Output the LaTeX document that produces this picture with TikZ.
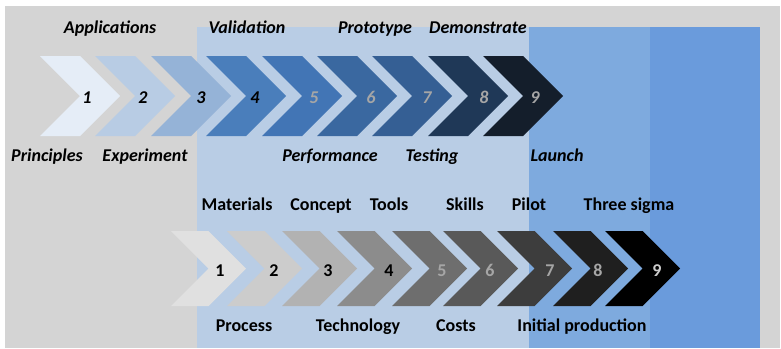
\documentclass[tikz,border=0pt]{standalone}
\usepackage{fontspec}
\setmainfont{Carlito}
\usepackage{xcolor}
\usetikzlibrary{positioning}

\definecolor{bggrey}{HTML}{D4D4D4}
\definecolor{bandlight}{HTML}{B9CDE5}
\definecolor{bandmid}{HTML}{7EAADE}
\definecolor{banddark}{HTML}{6A9BDC}
\definecolor{numgrey}{HTML}{A6A6A6}
\definecolor{blueA}{HTML}{E5EDF7}
\definecolor{blueB}{HTML}{B8CCE4}
\definecolor{blueC}{HTML}{95B3D7}
\definecolor{blueD}{HTML}{4A7EBB}
\definecolor{blueE}{HTML}{4275B5}
\definecolor{blueF}{HTML}{3A68A0}
\definecolor{blueG}{HTML}{355F94}
\definecolor{blueH}{HTML}{1F3857}
\definecolor{blueI}{HTML}{141E2B}

% chevron: left x, top y, height, colour
\newcommand{\chevron}[4]{%
    \fill[#4] (#1,#2) -- ++(0.5*#3,0) -- ++(0.5*#3,0.5*#3) -- ++(-0.5*#3,0.5*#3)
        -- ++(-0.5*#3,0) -- ++(0.5*#3,-0.5*#3) -- cycle;}

\tikzset{
    stage/.style={font=\fontsize{18}{20}\selectfont\bfseries\itshape, text height=12pt, text depth=4pt, inner sep=0pt},
    task/.style={font=\fontsize{18}{20}\selectfont\bfseries, text height=12pt, text depth=4pt, inner sep=0pt},
}

\begin{document}
\begin{tikzpicture}[x=1pt, y=-1pt]
    \useasboundingbox (0, 0) rectangle (781, 348);
    \fill[white] (0, 0) rectangle (781, 348);
    \fill[bggrey] (5, 6) rectangle (780, 348);
    \fill[bandlight] (197, 27) rectangle (529, 348);
    \fill[bandmid] (529, 27) rectangle (650, 348);
    \fill[banddark] (650, 27) rectangle (760, 348);

    % upper row
    \chevron{40}{56}{80}{blueA}
    \chevron{95}{56}{80}{blueB}
    \chevron{151}{56}{80}{blueC}
    \chevron{206}{56}{80}{blueD}
    \chevron{262}{56}{80}{blueE}
    \chevron{317}{56}{80}{blueF}
    \chevron{372}{56}{80}{blueG}
    \chevron{428}{56}{80}{blueH}
    \chevron{483}{56}{80}{blueI}

    \node[stage] (n1) at (87, 99) {1};
    \node[stage] (n2) at (143, 99) {2};
    \node[stage] (n3) at (201, 99) {3};
    \node[stage] (n4) at (255, 99) {4};
    \node[stage, numgrey] (n5) at (314, 99) {5};
    \node[stage, numgrey] (n6) at (371, 99) {6};
    \node[stage, numgrey] (n7) at (427, 99) {7};
    \node[stage, numgrey] (n8) at (484, 99) {8};
    \node[stage, numgrey] (n9) at (535, 99) {9};

    \node[stage] (applications) at (110, 29.5) {Applications};
    \node[stage] (validation) at (247, 29.5) {Validation};
    \node[stage] (prototype) at (375, 29.5) {Prototype};
    \node[stage] (demonstrate) at (478, 29.5) {Demonstrate};
    \node[stage] (principles) at (47, 157) {Principles};
    \node[stage] (experiment) at (145, 157) {Experiment};
    \node[stage] (performance) at (330, 157) {Performance};
    \node[stage] (testing) at (432, 157) {Testing};
    \node[stage] (launch) at (557, 157) {Launch};

    % lower row
    \chevron{171}{231}{75}{black!12}
    \chevron{227}{231}{75}{black!20}
    \chevron{282}{231}{75}{black!30}
    \chevron{337}{231}{75}{black!45}
    \chevron{392}{231}{75}{black!57}
    \chevron{443}{231}{75}{black!65}
    \chevron{497}{231}{75}{black!76}
    \chevron{553}{231}{75}{black!88}
    \chevron{605}{231}{75}{black}

    \node[task] (m1) at (220, 272) {1};
    \node[task] (m2) at (274, 272) {2};
    \node[task] (m3) at (328, 272) {3};
    \node[task] (m4) at (389, 272) {4};
    \node[task, numgrey] (m5) at (442, 272) {5};
    \node[task, numgrey] (m6) at (490, 272) {6};
    \node[task, numgrey] (m7) at (550, 272) {7};
    \node[task, numgrey] (m8) at (598, 272) {8};
    \node[task, black!20] (m9) at (657, 272) {9};

    \node[task] (materials) at (237, 206.5) {Materials};
    \node[task] (concept) at (321, 206.5) {Concept};
    \node[task] (tools) at (389, 206.5) {Tools};
    \node[task] (skills) at (465, 206.5) {Skills};
    \node[task] (pilot) at (529, 206.5) {Pilot};
    \node[task] (sigma) at (629, 206.5) {Three sigma};
    \node[task] (process) at (244, 327) {Process};
    \node[task] (technology) at (358, 327) {Technology};
    \node[task] (costs) at (456, 327) {Costs};
    \node[task] (production) at (582, 327) {Initial production};
\end{tikzpicture}
\end{document}
